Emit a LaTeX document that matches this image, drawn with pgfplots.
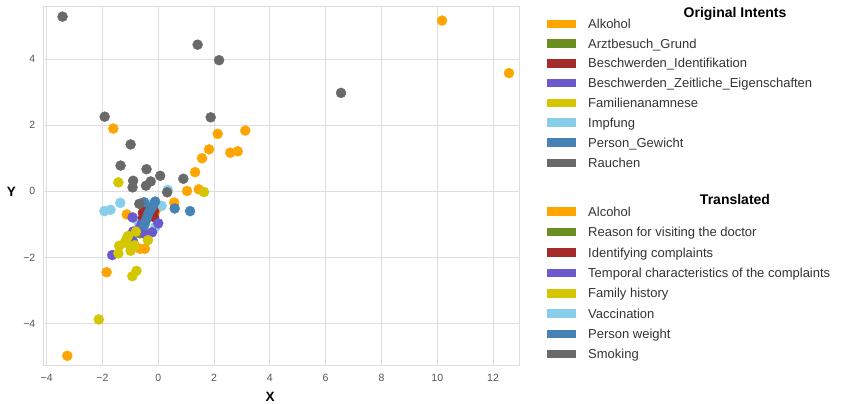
\documentclass[border=0pt]{standalone}
\usepackage{fontspec}
\setmainfont{Liberation Sans}
\usepackage{pgfplots}
\pgfplotsset{compat=1.18}
\definecolor{cAlk}{RGB}{255,165,0}
\definecolor{cArz}{RGB}{107,142,35}
\definecolor{cBId}{RGB}{165,42,42}
\definecolor{cBZe}{RGB}{106,90,205}
\definecolor{cFam}{RGB}{212,198,0}
\definecolor{cImp}{RGB}{135,206,235}
\definecolor{cPer}{RGB}{70,130,180}
\definecolor{cRau}{RGB}{105,105,105}
\definecolor{gridc}{RGB}{222,222,222}
\definecolor{tickc}{RGB}{85,85,85}
\definecolor{legc}{RGB}{51,51,51}
\begin{document}
\begin{tikzpicture}[x=1pt,y=1pt]
\useasboundingbox (0,0) rectangle (846,404);
\begin{axis}[at={(43.3pt,38.3pt)}, anchor=south west, scale only axis,
  width=476pt, height=359pt,
  xmin=-4.12, xmax=12.94, ymin=-5.28, ymax=5.59,
  xtick={-4,-2,0,2,4,6,8,10,12},
  xticklabels={−4,−2,0,2,4,6,8,10,12},
  ytick={-4,-2,0,2,4},
  yticklabels={−4,−2,0,2,4},
  grid=major,
  major grid style={gridc, line width=1pt},
  axis line style={gridc, line width=1pt},
  major tick length=0pt,
  tick style={draw=none},
  tick label style={font=\fontsize{10.5}{11}\selectfont, text=tickc},
  xticklabel style={yshift=-5pt},
  yticklabel style={xshift=-4.5pt},
  every axis plot/.append style={only marks, mark=*, mark size=5pt},
]
% Alkohol
\addplot[cAlk] coordinates {
(10.17,5.17) (12.57,3.58) (-1.61,1.90) (2.13,1.74) (3.12,1.84) (1.82,1.27)
(1.57,1.0) (2.58,1.17) (2.85,1.21) (1.32,0.58) (1.03,0.01) (1.45,0.06)
(0.57,-0.34) (-1.13,-0.70) (-1.85,-2.45) (-3.26,-4.98) (-0.65,-1.74)
(-0.48,-1.74) (-0.10,-0.60)};
% Arztbesuch_Grund
\addplot[cArz] coordinates {
(-0.66,-1.27) (-0.55,-1.10) (-0.50,-0.95)};
% Impfung
\addplot[cImp] coordinates {
(-1.93,-0.60) (-1.71,-0.56) (-1.36,-0.35) (0.12,-0.44) (0.34,0.04)
(-0.10,-1.08) (-0.72,-0.92) (-1.10,-1.50) (-0.30,-0.40)};
% Beschwerden_Identifikation
\addplot[cBId] coordinates {
(-0.55,-0.65) (-0.55,-0.80) (-0.15,-0.60) (-0.15,-0.78) (-0.35,-0.75) (-0.45,-0.55)};
% Beschwerden_Zeitliche_Eigenschaften
\addplot[cBZe] coordinates {
(-1.65,-1.93) (-0.92,-0.79) (0.0,-0.97) (-0.22,-1.24) (-0.90,-1.22)
(-0.92,-1.48) (-0.60,-1.00) (-0.70,-1.15) (-0.45,-1.30) (-1.00,-1.60)};
% Familienanamnese
\addplot[cFam] coordinates {
(-1.43,0.27) (1.64,-0.02) (-2.13,-3.88) (-0.93,-2.57) (-0.78,-2.41)
(-1.43,-1.88) (-1.40,-1.65) (-1.13,-1.43) (-1.08,-1.35) (-0.99,-1.68)
(-0.99,-1.80) (-0.84,-1.63) (-0.80,-1.22) (-0.37,-1.48) (-1.20,-1.55)};
% Person_Gewicht
\addplot[cPer] coordinates {
(0.59,-0.52) (1.14,-0.60) (-0.51,-0.33) (-0.11,-0.31) (-0.20,-0.45)
(-0.28,-0.55) (-0.35,-0.66) (-0.40,-0.78) (-0.45,-0.90) (-0.50,-1.02)};
% Rauchen
\addplot[cRau] coordinates {
(-3.43,5.29) (1.41,4.44) (2.18,3.97) (-1.92,2.26) (1.88,2.24) (6.55,2.98)
(-0.99,1.42) (-1.35,0.78) (-0.42,0.67) (-0.90,0.32) (-0.92,0.12)
(-0.27,0.30) (-0.44,0.17) (0.07,0.47) (0.90,0.38) (0.32,-0.03)
(-0.68,-0.38)};
\end{axis}
% axis labels
\node[font=\bfseries\fontsize{13.5}{14}\selectfont] at (11.5,212) {Y};
\node[font=\bfseries\fontsize{13.5}{14}\selectfont] at (270,7.5) {X};
% legends
\node[font=\bfseries\fontsize{14}{15}\selectfont, anchor=base, inner sep=0] at (735,{404-17.5}) {Original Intents};
\node[font=\bfseries\fontsize{14}{15}\selectfont, anchor=base, inner sep=0] at (735,{404-205}) {Translated};
\foreach \yy/\cc/\tt in {24/cAlk/Alkohol, 43.6/cArz/Arztbesuch\_Grund,
  63.4/cBId/Beschwerden\_Identifikation, 83.2/cBZe/Beschwerden\_Zeitliche\_Eigenschaften,
  103/cFam/Familienanamnese, 122.8/cImp/Impfung, 142.8/cPer/Person\_Gewicht,
  163/cRau/Rauchen,
  211.7/cAlk/Alcohol, 231.9/cArz/Reason for visiting the doctor,
  252.5/cBId/Identifying complaints, 273/cBZe/Temporal characteristics of the complaints,
  293.3/cFam/Family history, 313.5/cImp/Vaccination, 334/cPer/Person weight,
  354/cRau/Smoking} {
  \fill[\cc] (547,{404-\yy-4.3}) rectangle (576,{404-\yy+4.3});
  \node[font=\fontsize{13}{14}\selectfont, text=legc, anchor=base west, inner sep=0] at (588,{404-\yy-4.6}) {\tt};
}
\end{tikzpicture}
\end{document}
